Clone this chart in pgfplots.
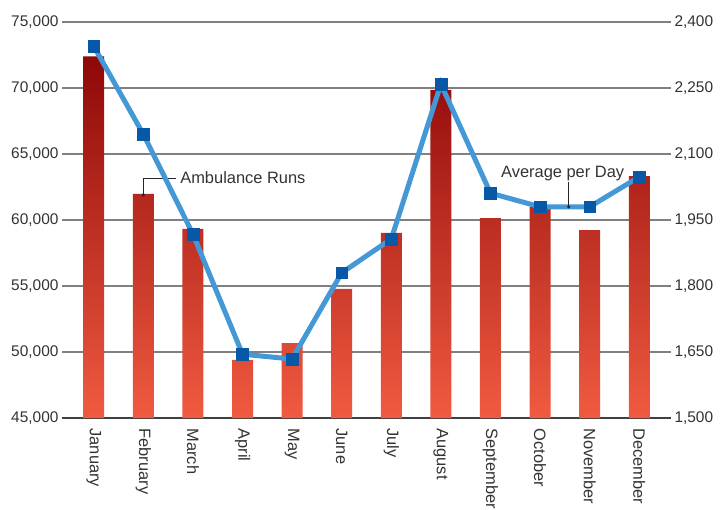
\documentclass[border=0pt]{standalone}
\usepackage{pgfplots}
\pgfplotsset{compat=1.18}
\usepackage{fontspec}
\setmainfont{Liberation Sans}
\definecolor{barTop}{RGB}{142,8,8}
\definecolor{barBot}{RGB}{240,90,64}
\definecolor{lineBlue}{RGB}{68,152,214}
\definecolor{markBlue}{RGB}{8,88,168}
\definecolor{gridGray}{RGB}{128,128,128}
\definecolor{txt}{RGB}{51,51,51}
\pgfplotsset{
  common/.style={
    width=609bp, height=396bp, scale only axis,
    xmin=-0.64, xmax=11.64,
    major tick length=0pt,
    scaled y ticks=false,
    /pgf/number format/assume math mode=true,
    /pgf/number format/1000 sep={,},
    tick label style={font=\fontsize{15.5}{18}\selectfont, text=txt},
  }
}
\begin{document}
\begin{tikzpicture}
\begin{axis}[common,
  axis x line*=bottom, axis y line*=left,
  y axis line style={draw=none},
  x axis line style={draw=black!75, line width=1.3bp},
  ymin=0, ymax=30000,
  ytick={0,5000,...,30000},
  yticklabels={{45,000},{50,000},{55,000},{60,000},{65,000},{70,000},{75,000}},
  ymajorgrids, grid style={gridGray, line width=1.3bp},
  xtick={0,...,11},
  xticklabels={January,February,March,April,May,June,July,August,September,October,November,December},
  x tick label style={rotate=-90, anchor=west, font=\fontsize{16.5}{19}\selectfont},
  xticklabel shift=7bp,
]
\addplot[ybar, bar width=21bp, draw=none, top color=barTop, bottom color=barBot,
  y filter/.expression={y-45000}]
  coordinates {(0,72400) (1,61970) (2,59320) (3,49400) (4,50680) (5,54780)
               (6,59020) (7,69850) (8,60150) (9,60990) (10,59240) (11,63330)};
\coordinate (bbsw) at (rel axis cs:0,0);
\fill[black!85] (axis cs:1,16900) circle (1.8bp);
\draw[black!85, line width=0.8bp] (axis cs:1,16900) |- (axis cs:1.657,18180)
  node[right, inner sep=4bp, text=txt, font=\fontsize{16.5}{19}\selectfont] {Ambulance Runs};
\end{axis}
\begin{axis}[common,
  hide x axis,
  axis y line*=right,
  y axis line style={draw=none},
  yticklabel pos=right,
  ymin=1500, ymax=2400,
  ytick={1500,1650,...,2400},
]
\addplot[lineBlue, line width=5bp, mark=square*, mark size=5.9bp,
  mark options={draw=markBlue, fill=markBlue, line width=0.5bp}]
  coordinates {(0,2345) (1,2145) (2,1918) (3,1645) (4,1634) (5,1830)
               (6,1907) (7,2259) (8,2011) (9,1980) (10,1980) (11,2048)};
\fill[black!85] (axis cs:9.576,1980) circle (1.8bp);
\draw[black!85, line width=0.8bp] (axis cs:9.576,1980) -- (axis cs:9.576,2036)
  node[anchor=south, inner sep=1bp, xshift=-6bp, text=txt, font=\fontsize{16.5}{19}\selectfont] {Average per Day};
\end{axis}
\pgfresetboundingbox
\path[use as bounding box] ([shift={(-62bp,-92bp)}]bbsw) rectangle ++(720bp,510bp);
\end{tikzpicture}
\end{document}
